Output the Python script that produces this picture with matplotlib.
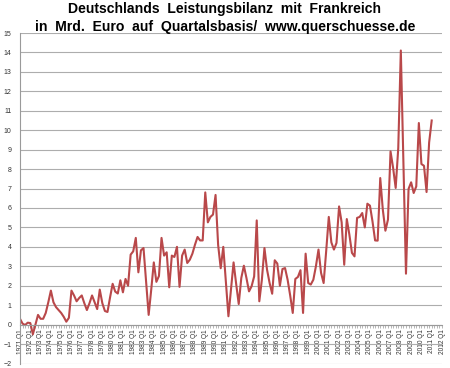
import matplotlib
matplotlib.use("Agg")
import matplotlib.pyplot as plt
from matplotlib.ticker import MultipleLocator, FixedLocator

# Quarterly current-account balance Germany vs France, bn EUR, 1971 Q1 .. 2011 Q1
vals_1970s = [0.3, 0.05, -0.02, 0.1, 0.08, -0.5, 0.0, 0.5,
              0.3, 0.3, 0.6, 1.15, 1.75, 1.15, 0.9, 0.75,
              0.6, 0.4, 0.15, 0.35, 1.75, 1.5, 1.2, 1.37,
              1.5, 1.1, 0.75, 1.1, 1.5, 1.15, 0.8, 1.8,
              1.1, 0.7, 0.65, 1.4]
vals_1980s = [2.1, 1.7, 1.6, 2.28, 1.66, 2.35, 2.0, 3.6,
              3.77, 4.46, 2.69, 3.82, 3.94, 2.2, 0.5, 1.8,
              3.2, 2.2, 2.5, 4.46, 3.55, 3.72, 1.92, 3.55,
              3.48, 4.0, 1.94, 3.55, 3.86, 3.17, 3.34, 3.65,
              4.11, 4.51, 4.33, 4.33, 6.8, 5.26, 5.54, 5.66]
vals_1990s = [6.67, 4.1, 2.9, 4.0, 2.2, 0.43, 1.8, 3.2,
              2.1, 1.06, 2.4, 3.03, 2.4, 1.71, 1.97, 2.48,
              5.36, 1.2, 2.31, 3.94, 2.83, 2.14, 1.59, 3.31,
              3.14, 2.0, 2.86, 2.91, 2.31, 1.5, 0.6, 2.35,
              2.45, 2.8, 0.6, 3.65, 2.14, 2.06, 2.31, 3.0]
vals_2000s = [3.86, 2.66, 2.14, 3.8, 5.54, 4.23, 3.86, 4.2,
              6.08, 5.26, 3.08, 5.43, 4.63, 3.69, 3.51, 5.49,
              5.54, 5.74, 5.0, 6.22, 6.12, 5.3, 4.33, 4.32,
              7.54, 5.91, 4.83, 5.4, 8.91, 8.06, 7.03, 9.08,
              14.1, 8.4, 2.62, 6.98, 7.32, 6.77, 7.11, 10.37,
              8.26, 8.17, 6.82, 9.37, 10.5]
values = vals_1970s + vals_1980s + vals_1990s + vals_2000s

first_year = 1971
last_label_year = 2012
categories = [f"{y} Q{q}" for y in range(first_year, last_label_year + 1) for q in range(1, 5)]
categories = categories[: (last_label_year - first_year) * 4 + 1]
tick_labels = [c for c in categories if c.endswith("Q1")]

title_1 = "Deutschlands  Leistungsbilanz  mit  Frankreich"
title_2 = "in  Mrd.  Euro  auf  Quartalsbasis/  www.querschuesse.de"

fig = plt.figure(figsize=(4.5, 3.68), dpi=100)
ax = fig.add_axes([20 / 450, 1 - 363.5 / 368, 422 / 450, (363.5 - 33) / 368])

x = list(range(len(values)))
ax.plot(x, values, color="#b9484a", lw=1.5, solid_joinstyle="round")

ax.set_xlim(0, len(categories) - 1)
ax.set_ylim(-2, 15)
ax.yaxis.set_major_locator(MultipleLocator(1))
ax.grid(axis="y", color="#adadad", lw=0.8)
ax.set_axisbelow(True)

for s in ["top", "right"]:
    ax.spines[s].set_visible(False)
ax.spines["left"].set_color("#9a9a9a")
ax.spines["left"].set_linewidth(0.8)
ax.spines["bottom"].set_position(("data", 0))
ax.spines["bottom"].set_color("#9a9a9a")
ax.spines["bottom"].set_linewidth(0.8)

major_pos = [categories.index(t) for t in tick_labels]
ax.xaxis.set_major_locator(FixedLocator(major_pos))
ax.xaxis.set_minor_locator(MultipleLocator(1))
ax.set_xticklabels(tick_labels, rotation=90, fontsize=4.7, family="Liberation Sans",
                   color="#333333", va="top")
ax.tick_params(axis="x", which="both", length=2.2, width=0.5, color="#9a9a9a", pad=1)
ax.tick_params(axis="y", length=0, pad=6, labelsize=5.0, labelcolor="#333333")
for lab in ax.get_yticklabels():
    lab.set_family("Liberation Sans")

fig.text(0.5, 1 - 9.5 / 368, title_1, ha="center", va="center", fontsize=10.1,
         fontweight="bold", family="Liberation Sans")
fig.text(0.5, 1 - 27 / 368, title_2, ha="center", va="center", fontsize=10.1,
         fontweight="bold", family="Liberation Sans")

fig.savefig("out.png", dpi=100)
